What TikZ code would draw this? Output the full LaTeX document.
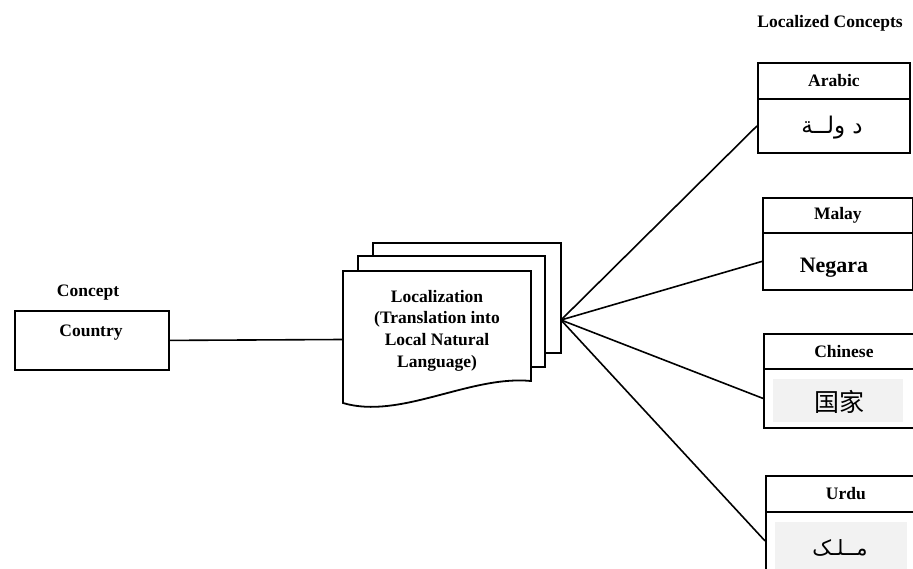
\documentclass[tikz,border=0pt]{standalone}
\usepackage{fontspec}
\setmainfont{Liberation Serif}
\newfontfamily\arabicfont[Script=Arabic]{DejaVu Sans}
\newfontfamily\cjkfont{Noto Sans CJK SC}
\TeXXeTstate=1
\begin{document}
\begin{tikzpicture}[x=1pt,y=-1pt,line width=1.5pt,
  lbl/.style={font=\bfseries\fontsize{17.5}{21}\selectfont, inner sep=0pt},
  box/.style={draw, line width=1.8pt, anchor=north west, inner sep=0pt},
  page/.style={draw, line width=1.8pt, line join=miter},
  conn/.style={draw, line width=1.6pt},
  graybg/.style={fill=black!5, draw=none}]
\path[use as bounding box, clip] (0,0) rectangle (913,569);
\fill[white] (0,0) rectangle (913,569);
% title labels
\node[lbl] (conceptT) at (88,293) {Concept};
\node[lbl] (locT) at (830,23) {Localized Concepts};
% country box
\node[box, minimum width=154pt, minimum height=59pt] (country) at (14,310) {};
\node[lbl] (countryT) at (91,333) {Country};
% document stack
\draw[page] (373,256) -- (373,243) -- (561,243) -- (561,353) -- (545,353);
\draw[page] (358,271) -- (358,256) -- (545,256) -- (545,367) -- (531,367);
\draw[page] (343,403) -- (343,271) -- (531,271) -- (531,381)
   .. controls (470,375) and (400,420) .. (343,403) -- cycle;
\node[lbl, align=center, font=\bfseries\fontsize{17.5}{21.7}\selectfont] (doc) at (437,330.5)
   {Localization\\(Translation into\\Local Natural\\Language)};
\coordinate (docL) at (343,339.5);
\coordinate (hub) at (561,320);
% Arabic
\node[box, minimum width=152pt, minimum height=36pt] (arH) at (757,62) {};
\node[box, minimum width=152pt, minimum height=54pt] (arB) at (757,98) {};
\node[lbl] (arHT) at (arH.center) {Arabic};
\node[inner sep=0pt, font=\arabicfont\fontsize{23}{26}\selectfont] (arBT) at (832,128) {\beginR د ولــة\endR};
% Malay
\node[box, minimum width=150pt, minimum height=35pt] (maH) at (762,197) {};
\node[box, minimum width=150pt, minimum height=57pt] (maB) at (762,232) {};
\node[lbl] (maHT) at (maH.center) {Malay};
\node[inner sep=0pt, font=\bfseries\fontsize{22}{26}\selectfont] (maBT) at (834,268) {Negara};
% Chinese
\node[box, minimum width=160pt, minimum height=35pt] (chH) at (763,333) {};
\node[box, minimum width=160pt, minimum height=59pt] (chB) at (763,368) {};
\fill[graybg] (773,379) rectangle (903,422);
\node[lbl] (chHT) at (chH.center) {Chinese};
\node[inner sep=0pt, font=\cjkfont\fontsize{25}{28}\selectfont] (chBT) at (839,402) {国家};
% Urdu
\node[box, minimum width=160pt, minimum height=36pt] (urH) at (765,475) {};
\node[box, minimum width=160pt, minimum height=58pt] (urB) at (765,511) {};
\fill[graybg] (775,522) rectangle (907,575);
\node[lbl] (urHT) at (urH.center) {Urdu};
\node[inner sep=0pt, font=\arabicfont\fontsize{21}{24}\selectfont] (urBT) at (840,548) {\beginR مــلـک\endR};
% connectors
\draw[conn] (country.east) -- (docL);
\draw[conn] (hub) -- (arB.west);
\draw[conn] (hub) -- (maB.west);
\draw[conn] (hub) -- (chB.west);
\draw[conn] (hub) -- (urB.west);
\end{tikzpicture}
\end{document}
